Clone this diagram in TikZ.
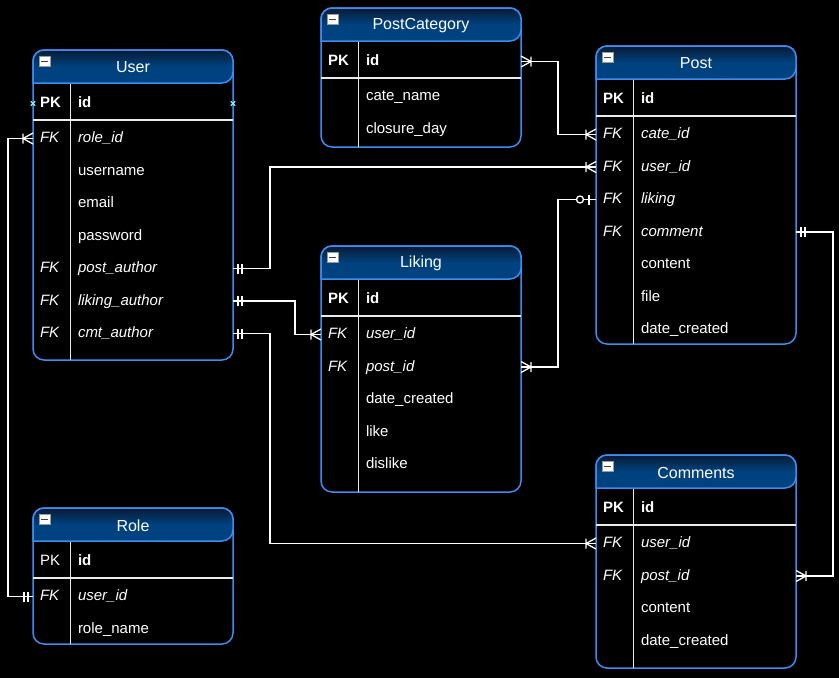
\documentclass[tikz,border=0pt]{standalone}
\usepackage{fontspec}
\setmainfont{Liberation Sans}
\usepackage{tikz}
\usetikzlibrary{positioning}

\definecolor{tblborder}{HTML}{3D8DF0}
\definecolor{hdrtop}{HTML}{081A34}
\definecolor{hdrbot}{HTML}{00427F}
\definecolor{selmark}{HTML}{8FF0F8}

\begin{document}
\begin{tikzpicture}[x=1pt,y=1pt,node distance=32.5pt]
  \tikzstyle{tblbox}=[draw=tblborder, fill=black, line width=1.5pt, rounded corners=11pt, minimum width=200pt, inner sep=0pt, outer sep=0pt, anchor=north west]
  \tikzstyle{tblhead}=[draw=tblborder, line width=1.5pt, top color=hdrtop, bottom color=hdrbot, middle color=hdrbot]
  \tikzstyle{tbltitle}=[text=white, font=\fontsize{16}{19}\selectfont]
  \tikzstyle{keycol}=[text=white, inner sep=0pt, text width=28pt, align=left, text height=11pt, text depth=3pt, font=\fontsize{15}{18}\selectfont]
  \tikzstyle{fieldcol}=[text=white, inner sep=0pt, text width=140pt, align=left, text height=11pt, text depth=3pt, font=\fontsize{15}{18}\selectfont]
  \tikzstyle{sepline}=[white!92!black, line width=1.3pt]
  \tikzstyle{conn}=[white, line width=1.3pt]
  \tikzstyle{minusbox}=[fill=white, draw=black!40, line width=0.5pt, inner sep=0pt, minimum width=10.5pt, minimum height=10pt, path picture={\draw[black!75, line width=1.3pt] ([xshift=2pt]path picture bounding box.west) -- ([xshift=-2pt]path picture bounding box.east);}]
  \tikzset{
    erone/.pic={\draw[conn] (-5,5) -- (-5,-5) (-9,5) -- (-9,-5);},
    ermany/.pic={\draw[conn] (-10,0) -- (0,5.5) (-10,0) -- (0,-5.5) (-10,5) -- (-10,-5);},
    erzeroone/.pic={\draw[conn] (-7,5) -- (-7,-5); \draw[conn, fill=black] (-16,0) circle (3.5);},
    selmk/.pic={\draw[selmark, line width=1.2pt] (-2.2,-2.2) -- (2.2,2.2) (-2.2,2.2) -- (2.2,-2.2);}
  }

  \fill[black] (0,0) rectangle (839,-678);
  \useasboundingbox (0,0) rectangle (839,-678);

  % User
  \node[tblbox, minimum height=310pt] (user) at (33,-50) {};
  \path[tblhead] ([yshift=-33pt]user.north west) [rounded corners=11pt] |- (user.north) -| ([yshift=-33pt]user.north east) [sharp corners] -- cycle;
  \node[tbltitle] (user-title) at ([yshift=-17.5pt]user.north) {User};
  \node[minusbox] (user-min) at ([xshift=11.5pt,yshift=-11.5pt]user.north west) {};
  \draw[sepline] ([xshift=37.5pt,yshift=-34pt]user.north west) -- ([xshift=37.5pt]user.south west);
  \draw[sepline] ([yshift=-70pt]user.north west) -- ([yshift=-70pt]user.north east);
  \node[keycol] (user-pk) at ([xshift=21pt,yshift=-53.5pt]user.north west) {\textbf{PK}};
  \node[fieldcol] (user-id) at ([xshift=115pt,yshift=-53.5pt]user.north west) {\textbf{id}};
  \node[fieldcol, below of=user-id, yshift=-2.5pt] (user-role) {\textit{role\_id}};
  \node[fieldcol, below of=user-role] (user-name) {username};
  \node[fieldcol, below of=user-name] (user-email) {email};
  \node[fieldcol, below of=user-email] (user-pass) {password};
  \node[fieldcol, below of=user-pass] (user-post) {\textit{post\_author}};
  \node[fieldcol, below of=user-post] (user-liking) {\textit{liking\_author}};
  \node[fieldcol, below of=user-liking] (user-cmt) {\textit{cmt\_author}};
  \node[keycol] (user-fk1) at (user-pk |- user-role) {\textit{FK}};
  \node[keycol] (user-fk2) at (user-pk |- user-post) {\textit{FK}};
  \node[keycol] (user-fk3) at (user-pk |- user-liking) {\textit{FK}};
  \node[keycol] (user-fk4) at (user-pk |- user-cmt) {\textit{FK}};
  \pic at (user.west |- user-id) {selmk};
  \pic at (user.east |- user-id) {selmk};

  % PostCategory
  \node[tblbox, minimum height=139pt] (pc) at (321,-8) {};
  \path[tblhead] ([yshift=-33pt]pc.north west) [rounded corners=11pt] |- (pc.north) -| ([yshift=-33pt]pc.north east) [sharp corners] -- cycle;
  \node[tbltitle] (pc-title) at ([yshift=-17.5pt]pc.north) {PostCategory};
  \node[minusbox] (pc-min) at ([xshift=11.5pt,yshift=-11.5pt]pc.north west) {};
  \draw[sepline] ([xshift=37.5pt,yshift=-34pt]pc.north west) -- ([xshift=37.5pt]pc.south west);
  \draw[sepline] ([yshift=-70pt]pc.north west) -- ([yshift=-70pt]pc.north east);
  \node[keycol] (pc-pk) at ([xshift=21pt,yshift=-53.5pt]pc.north west) {\textbf{PK}};
  \node[fieldcol] (pc-id) at ([xshift=115pt,yshift=-53.5pt]pc.north west) {\textbf{id}};
  \node[fieldcol, below of=pc-id, yshift=-2.5pt] (pc-name) {cate\_name};
  \node[fieldcol, below of=pc-name] (pc-day) {closure\_day};

  % Post
  \node[tblbox, minimum height=298pt] (post) at (596,-46) {};
  \path[tblhead] ([yshift=-33pt]post.north west) [rounded corners=11pt] |- (post.north) -| ([yshift=-33pt]post.north east) [sharp corners] -- cycle;
  \node[tbltitle] (post-title) at ([yshift=-17.5pt]post.north) {Post};
  \node[minusbox] (post-min) at ([xshift=11.5pt,yshift=-11.5pt]post.north west) {};
  \draw[sepline] ([xshift=37.5pt,yshift=-34pt]post.north west) -- ([xshift=37.5pt]post.south west);
  \draw[sepline] ([yshift=-70pt]post.north west) -- ([yshift=-70pt]post.north east);
  \node[keycol] (post-pk) at ([xshift=21pt,yshift=-53.5pt]post.north west) {\textbf{PK}};
  \node[fieldcol] (post-id) at ([xshift=115pt,yshift=-53.5pt]post.north west) {\textbf{id}};
  \node[fieldcol, below of=post-id, yshift=-2.5pt] (post-cate) {\textit{cate\_id}};
  \node[fieldcol, below of=post-cate] (post-user) {\textit{user\_id}};
  \node[fieldcol, below of=post-user] (post-liking) {\textit{liking}};
  \node[fieldcol, below of=post-liking] (post-cmt) {\textit{comment}};
  \node[fieldcol, below of=post-cmt] (post-content) {content};
  \node[fieldcol, below of=post-content] (post-file) {file};
  \node[fieldcol, below of=post-file] (post-date) {date\_created};
  \node[keycol] (post-fk1) at (post-pk |- post-cate) {\textit{FK}};
  \node[keycol] (post-fk2) at (post-pk |- post-user) {\textit{FK}};
  \node[keycol] (post-fk3) at (post-pk |- post-liking) {\textit{FK}};
  \node[keycol] (post-fk4) at (post-pk |- post-cmt) {\textit{FK}};

  % Liking
  \node[tblbox, minimum height=246pt] (liking) at (321,-246) {};
  \path[tblhead] ([yshift=-33pt]liking.north west) [rounded corners=11pt] |- (liking.north) -| ([yshift=-33pt]liking.north east) [sharp corners] -- cycle;
  \node[tbltitle] (liking-title) at ([yshift=-17.5pt]liking.north) {Liking};
  \node[minusbox] (liking-min) at ([xshift=11.5pt,yshift=-11.5pt]liking.north west) {};
  \draw[sepline] ([xshift=37.5pt,yshift=-34pt]liking.north west) -- ([xshift=37.5pt]liking.south west);
  \draw[sepline] ([yshift=-70pt]liking.north west) -- ([yshift=-70pt]liking.north east);
  \node[keycol] (liking-pk) at ([xshift=21pt,yshift=-53.5pt]liking.north west) {\textbf{PK}};
  \node[fieldcol] (liking-id) at ([xshift=115pt,yshift=-53.5pt]liking.north west) {\textbf{id}};
  \node[fieldcol, below of=liking-id, yshift=-2.5pt] (liking-user) {\textit{user\_id}};
  \node[fieldcol, below of=liking-user] (liking-post) {\textit{post\_id}};
  \node[fieldcol, below of=liking-post] (liking-date) {date\_created};
  \node[fieldcol, below of=liking-date] (liking-like) {like};
  \node[fieldcol, below of=liking-like] (liking-dislike) {dislike};
  \node[keycol] (liking-fk1) at (liking-pk |- liking-user) {\textit{FK}};
  \node[keycol] (liking-fk2) at (liking-pk |- liking-post) {\textit{FK}};

  % Role
  \node[tblbox, minimum height=136pt] (role) at (33,-508) {};
  \path[tblhead] ([yshift=-33pt]role.north west) [rounded corners=11pt] |- (role.north) -| ([yshift=-33pt]role.north east) [sharp corners] -- cycle;
  \node[tbltitle] (role-title) at ([yshift=-17.5pt]role.north) {Role};
  \node[minusbox] (role-min) at ([xshift=11.5pt,yshift=-11.5pt]role.north west) {};
  \draw[sepline] ([xshift=37.5pt,yshift=-34pt]role.north west) -- ([xshift=37.5pt]role.south west);
  \draw[sepline] ([yshift=-70pt]role.north west) -- ([yshift=-70pt]role.north east);
  \node[keycol] (role-pk) at ([xshift=21pt,yshift=-53.5pt]role.north west) {PK};
  \node[fieldcol] (role-id) at ([xshift=115pt,yshift=-53.5pt]role.north west) {\textbf{id}};
  \node[fieldcol, below of=role-id, yshift=-2.5pt] (role-user) {\textit{user\_id}};
  \node[fieldcol, below of=role-user] (role-name) {role\_name};
  \node[keycol] (role-fk1) at (role-pk |- role-user) {\textit{FK}};

  % Comments
  \node[tblbox, minimum height=213pt] (cmts) at (596,-455) {};
  \path[tblhead] ([yshift=-33pt]cmts.north west) [rounded corners=11pt] |- (cmts.north) -| ([yshift=-33pt]cmts.north east) [sharp corners] -- cycle;
  \node[tbltitle] (cmts-title) at ([yshift=-17.5pt]cmts.north) {Comments};
  \node[minusbox] (cmts-min) at ([xshift=11.5pt,yshift=-11.5pt]cmts.north west) {};
  \draw[sepline] ([xshift=37.5pt,yshift=-34pt]cmts.north west) -- ([xshift=37.5pt]cmts.south west);
  \draw[sepline] ([yshift=-70pt]cmts.north west) -- ([yshift=-70pt]cmts.north east);
  \node[keycol] (cmts-pk) at ([xshift=21pt,yshift=-53.5pt]cmts.north west) {\textbf{PK}};
  \node[fieldcol] (cmts-id) at ([xshift=115pt,yshift=-53.5pt]cmts.north west) {\textbf{id}};
  \node[fieldcol, below of=cmts-id, yshift=-2.5pt] (cmts-user) {\textit{user\_id}};
  \node[fieldcol, below of=cmts-user] (cmts-post) {\textit{post\_id}};
  \node[fieldcol, below of=cmts-post] (cmts-content) {content};
  \node[fieldcol, below of=cmts-content] (cmts-date) {date\_created};
  \node[keycol] (cmts-fk1) at (cmts-pk |- cmts-user) {\textit{FK}};
  \node[keycol] (cmts-fk2) at (cmts-pk |- cmts-post) {\textit{FK}};

  % relations
  \draw[conn] (role.west |- role-user) -- ++(-25,0) |- (user.west |- user-role);
  \pic at (role.west |- role-user) {erone};
  \pic at (user.west |- user-role) {ermany};

  \draw[conn] (user.east |- user-post) -- ++(37,0) |- (post.west |- post-user);
  \pic[rotate=180] at (user.east |- user-post) {erone};
  \pic at (post.west |- post-user) {ermany};

  \draw[conn] (user.east |- user-liking) -- ++(62,0) |- (liking.west |- liking-user);
  \pic[rotate=180] at (user.east |- user-liking) {erone};
  \pic at (liking.west |- liking-user) {ermany};

  \draw[conn] (user.east |- user-cmt) -- ++(37,0) |- (cmts.west |- cmts-user);
  \pic[rotate=180] at (user.east |- user-cmt) {erone};
  \pic at (cmts.west |- cmts-user) {ermany};

  \draw[conn] (pc.east |- pc-id) -- ++(37,0) |- (post.west |- post-cate);
  \pic[rotate=180] at (pc.east |- pc-id) {ermany};
  \pic at (post.west |- post-cate) {ermany};

  \draw[conn] (liking.east |- liking-post) -- ++(37,0) |- (post.west |- post-liking);
  \pic[rotate=180] at (liking.east |- liking-post) {ermany};
  \pic at (post.west |- post-liking) {erzeroone};

  \draw[conn] (post.east |- post-cmt) -- ++(37,0) |- (cmts.east |- cmts-post);
  \pic[rotate=180] at (post.east |- post-cmt) {erone};
  \pic[rotate=180] at (cmts.east |- cmts-post) {ermany};

\end{tikzpicture}
\end{document}
